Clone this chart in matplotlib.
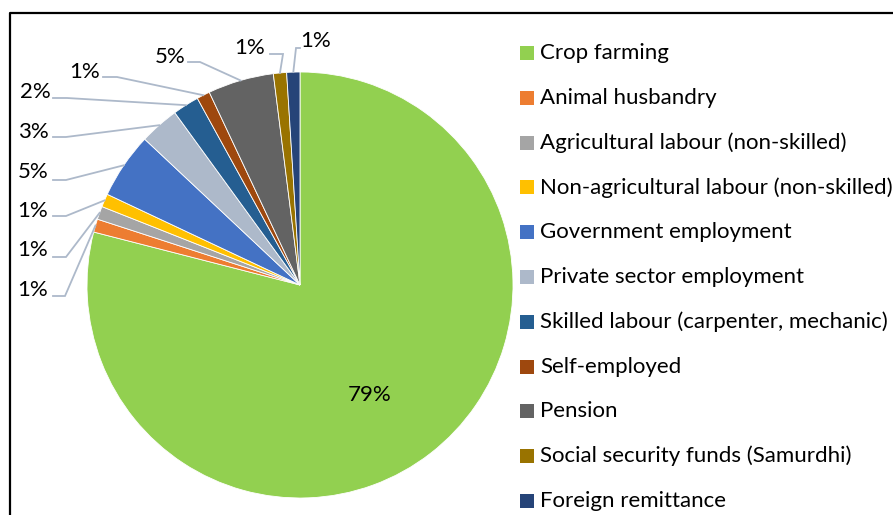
import numpy as np
import matplotlib.pyplot as plt
from matplotlib.patches import Rectangle

plt.rcParams['font.family'] = ['Lato', 'DejaVu Sans']

categories = ['Crop farming', 'Animal husbandry', 'Agricultural labour (non-skilled)',
              'Non-agricultural labour (non-skilled)', 'Government employment',
              'Private sector employment', 'Skilled labour (carpenter, mechanic)',
              'Self-employed', 'Pension', 'Social security funds (Samurdhi)',
              'Foreign remittance']
shares = [79, 1, 1, 1, 5, 3, 2, 1, 5, 1, 1]
colors = ['#92D050', '#ED7D31', '#A5A5A5', '#FFC000', '#4472C4', '#ADB9CA',
          '#255E91', '#9E480E', '#636363', '#997300', '#264478']

W, H = 893, 515
cx, cy, R = 300, H - 285, 213

# label placement (pixel coords, y down): text centre, elbow of leader line
label_txt = [None, (33, 290), (33, 250), (33, 211), (33, 172), (33, 132),
             (35, 92), (85, 72), (170, 57), (250, 48), (316, 41)]
label_elbow = [None, (65, 296), (66, 257), (66, 216), (66, 180), (66, 137),
               (67, 98), (117, 77), (200, 62), (283, 54), (296, 48)]
label_end = [None, 53, 53, 53, 53, 53, 53, 103, 188, 270, 300]

fs = 16

fig = plt.figure(figsize=(W / 100, H / 100), dpi=100)
ax = fig.add_axes([0, 0, 1, 1])

wedges, _ = ax.pie(shares, colors=colors, startangle=90, counterclock=False,
                   center=(cx, cy), radius=R, frame=True,
                   wedgeprops=dict(edgecolor='white', linewidth=0.6))
ax.set_xlim(0, W)
ax.set_ylim(0, H)
ax.set_aspect('equal')
ax.axis('off')

line_col = '#ADB9CA'
for i, w in enumerate(wedges):
    pct = '%d%%' % shares[i]
    if label_txt[i] is None:
        ax.text(370, H - 395, pct, ha='center', va='center', fontsize=fs, color='#000000')
        continue
    mid = np.deg2rad((w.theta1 + w.theta2) / 2)
    ax_x, ax_y = cx + R * np.cos(mid), cy + R * np.sin(mid)
    ex, ey = label_elbow[i]
    ax.plot([ax_x, ex, label_end[i]], [ax_y, H - ey, H - ey],
            color=line_col, lw=1.3, solid_joinstyle='miter')
    tx, ty = label_txt[i]
    ax.text(tx, H - ty, pct, ha='center', va='center', fontsize=fs, color='#000000')

# legend
for i, name in enumerate(categories):
    y = H - (53 + 44.8 * i)
    ax.add_patch(Rectangle((520, y - 7), 14, 14, facecolor=colors[i], edgecolor='none'))
    ax.text(540, y, name, ha='left', va='center', fontsize=fs, color='#000000')

# outer frame
ax.plot([10, 10, W], [0, H - 12.5, H - 12.5], color='black', lw=1.6, solid_capstyle='butt')

fig.savefig('out.png', dpi=100)
